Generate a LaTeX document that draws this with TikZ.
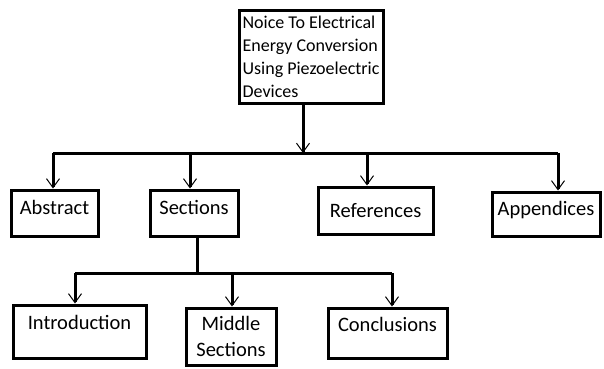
\documentclass[tikz,border=0pt]{standalone}
\usepackage{fontspec}
\setmainfont{Carlito}
\usetikzlibrary{arrows.meta,positioning,calc}

\begin{document}
\begin{tikzpicture}[x=1pt,y=-1pt,
    box/.style={draw, line width=3pt, inner sep=2pt, text height=15pt,
        font=\fontsize{20.5}{26}\selectfont},
    lift/.style={text depth=#1},
    titlebox/.style={draw, line width=3pt, inner sep=2pt, align=left,
        font=\fontsize{18}{23}\selectfont},
    link/.style={line width=3pt},
    drop/.style={line width=3pt, -{Straight Barb[line width=1pt, length=9pt, width=13pt]}}
]
    \useasboundingbox (0,0) rectangle (604,368);

    \node[titlebox, minimum width=144pt, minimum height=93pt] (title) at (311,56.5)
        {Noice To Electrical\\Energy Conversion\\Using Piezoelectric\\Devices};

    % first level
    \node[box, lift=12pt, minimum width=87pt, minimum height=46pt] (abs) at (54.5,213) {Abstract};
    \node[box, lift=12pt, minimum width=88pt, minimum height=46pt] (sec) at (194,213) {Sections};
    \node[box, lift=2pt, minimum width=115pt, minimum height=47pt] (ref) at (375.5,210.5) {References};
    \node[box, lift=12.8pt, minimum width=108pt, minimum height=44pt] (app) at (546,214) {Appendices};

    % second level
    \node[box, lift=20pt, minimum width=133pt, minimum height=53pt] (intro) at (79.5,331.5) {Introduction};
    \node[box, align=center, text height=, minimum width=90pt, minimum height=57pt] (mid) at (231,336.5) {Middle\\Sections};
    \node[box, lift=19pt, minimum width=119pt, minimum height=50pt] (concl) at (387.5,333) {Conclusions};

    % title to first level
    \coordinate (hub) at (303,153);
    \draw[drop] (title.south -| hub) -- (hub);
    \draw[link] ([xshift=-1.5pt]abs.north |- hub) -- ([xshift=12pt]app.north |- hub);
    \draw[drop] ([xshift=-1.5pt]abs.north |- hub) -- ([xshift=-1.5pt]abs.north);
    \draw[drop] ([xshift=-4pt]sec.north |- hub) -- ([xshift=-4pt]sec.north);
    \draw[drop] ([xshift=-8.5pt]ref.north |- hub) -- ([xshift=-8.5pt]ref.north);
    \draw[drop] ([xshift=12pt]app.north |- hub) -- ([xshift=12pt]app.north);

    % sections to second level
    \coordinate (hubs) at (197,273);
    \draw[link] (sec.south -| hubs) -- (hubs);
    \draw[link] ([xshift=-4.5pt]intro.north |- hubs) -- ([xshift=4.5pt]concl.north |- hubs);
    \draw[drop] ([xshift=-4.5pt]intro.north |- hubs) -- ([xshift=-4.5pt]intro.north);
    \draw[drop] ([xshift=1pt]mid.north |- hubs) -- ([xshift=1pt]mid.north);
    \draw[drop] ([xshift=4.5pt]concl.north |- hubs) -- ([xshift=4.5pt]concl.north);

\end{tikzpicture}
\end{document}
